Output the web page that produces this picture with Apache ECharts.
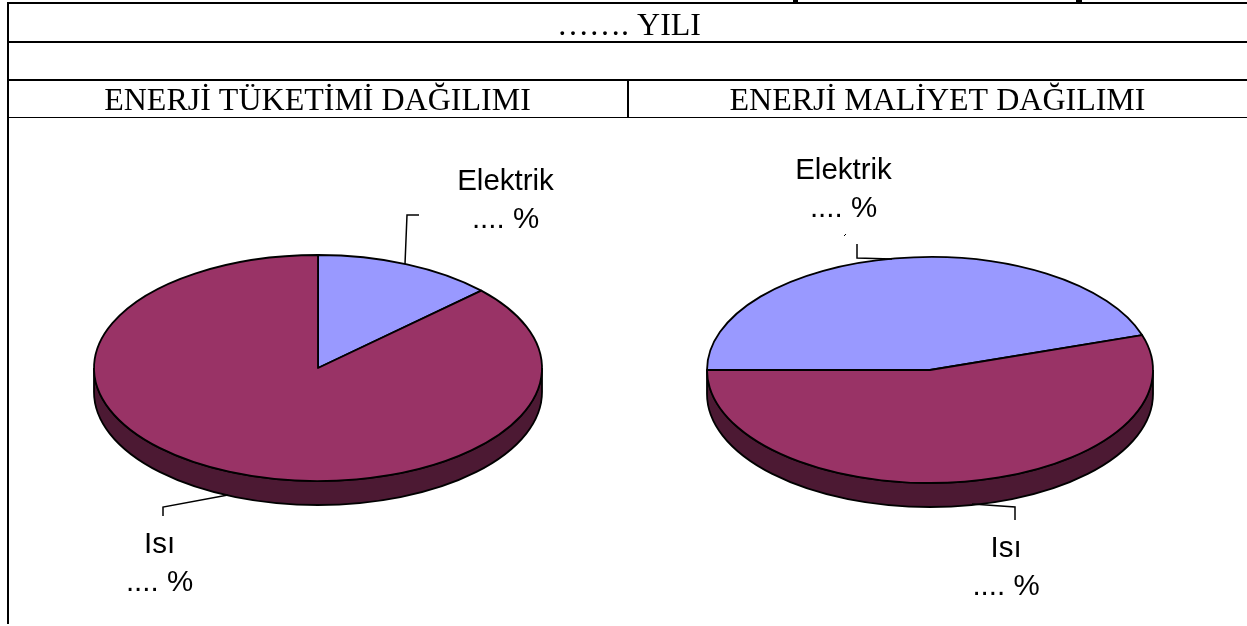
<!DOCTYPE html>
<html><head><meta charset="utf-8">
<style>html,body{margin:0;padding:0;background:#fff}#c{width:1247px;height:626px}</style>
<script src="https://cdn.jsdelivr.net/npm/echarts@6/dist/echarts.min.js"></script>
</head><body><div id="c"></div>
<script>
const categories = ['Elektrik', 'Isı'];
const percentLabels = ['.... %', '.... %'];
const consumptionValues = [13, 87];
const costValues = [45, 55];
const yearLabel = '……. YILI';
const headerLeft = 'ENERJİ TÜKETİMİ DAĞILIMI';
const headerRight = 'ENERJİ MALİYET DAĞILIMI';
const topColors = ['#9999FF', '#993366'];
const sideColors = ['#4D4D80', '#4C1933'];

const leftLayout = {cx:318, cy:368, rx:224, ry:113, depth:24, startDeg:0,
  labels:[[505.5,197],[159.5,560]],
  leaders:[[[405,264],[407,215],[419,215]], [[228,495],[163,507],[163,516]]]};
const rightLayout = {cx:930, cy:370, rx:223, ry:113, depth:24, startDeg:270,
  labels:[[843.5,186],[1006,563.5]],
  leaders:[[[892,259],[857,258],[857,244]], [[972,504],[1015,507],[1015,520]]]};

function pt(l, deg, dy){
  const a = deg*Math.PI/180;
  return [l.cx + l.rx*Math.sin(a), l.cy - l.ry*Math.cos(a) + (dy||0)];
}
function arcPath(l, a0, a1, dy){
  const e = pt(l, a1, dy);
  const large = Math.abs(a1-a0) > 180 ? 1 : 0;
  const sweep = a1 > a0 ? 1 : 0;
  return `A${l.rx} ${l.ry} 0 ${large} ${sweep} ${e[0]} ${e[1]}`;
}
function sectorPath(l, a0, a1){
  const s = pt(l, a0);
  const mid = (a0+a1)/2;
  return `M${l.cx} ${l.cy}L${s[0]} ${s[1]}` + arcPath(l,a0,mid) + arcPath(l,mid,a1) + 'Z';
}
function wallPaths(l, a0, a1){
  const out = [];
  for (let k=-1;k<=1;k++){
    const lo = Math.max(a0, 90+360*k), hi = Math.min(a1, 270+360*k);
    if (hi > lo){
      const s = pt(l,lo), e = pt(l,hi,l.depth);
      out.push(`M${s[0]} ${s[1]}`+arcPath(l,lo,hi)+`L${e[0]} ${e[1]}`+arcPath(l,hi,lo,l.depth)+'Z');
    }
  }
  return out;
}
function pieSeries(values, l){
  const total = values.reduce((a,b)=>a+b,0);
  return {
    type:'custom', coordinateSystem:'none', silent:true, clip:false,
    data: values.map((v,i)=>[v,i]),
    renderItem(params, api){
      const idx = api.value(1);
      let start = l.startDeg;
      for (let i=0;i<idx;i++) start += values[i]/total*360;
      const end = start + api.value(0)/total*360;
      const children = [];
      wallPaths(l,start,end).forEach(d=>children.push({
        type:'path', z2:1, shape:{pathData:d},
        style:{fill:sideColors[idx], stroke:'#000', lineWidth:1.8}}));
      children.push({type:'path', z2:2, shape:{pathData:sectorPath(l,start,end)},
        style:{fill:topColors[idx], stroke:'#000', lineWidth:1.8, lineJoin:'round'}});
      children.push({type:'polyline', z2:3, shape:{points:l.leaders[idx]},
        style:{fill:null, stroke:'#000', lineWidth:1.5}});
      children.push({type:'text', z2:4, x:l.labels[idx][0], y:l.labels[idx][1], style:{
        text:categories[idx], fill:'#000', font:'29.5px "Liberation Sans"', textAlign:'center', textVerticalAlign:'bottom'}});
      children.push({type:'text', z2:4, x:l.labels[idx][0], y:l.labels[idx][1]+38, style:{
        text:percentLabels[idx], fill:'#000', font:'29.5px "Liberation Sans"', textAlign:'center', textVerticalAlign:'bottom'}});
      return {type:'group', children};
    }
  };
}
function rule(x1,y1,x2,y2,w){return {type:'line',silent:true,shape:{x1,y1,x2,y2},style:{stroke:'#000',lineWidth:w}};}
function cellText(text,x,y){return {type:'text',silent:true,x,y,style:{text,fill:'#000',font:'32px "Liberation Serif"',textAlign:'center',textVerticalAlign:'middle'}};}

const chart = echarts.init(document.getElementById('c'), null, {renderer:'canvas'});
chart.setOption({
  animation:false,
  backgroundColor:'#fff',
  graphic:{elements:[
    rule(7,3,1247,3,2),
    rule(8,2,8,624,2),
    rule(7,42,1247,42,2),
    rule(7,80,1247,80,2),
    rule(7,117.5,1247,117.5,1),
    rule(628,80,628,118,2),
    rule(793,1,798,1,2),
    rule(1076,1,1082,1,2),
    rule(844,236,846,234,1),
    cellText(yearLabel,629,26.5),
    cellText(headerLeft,317.5,101.5),
    cellText(headerRight,937.5,101.5)
  ]},
  series:[pieSeries(consumptionValues,leftLayout), pieSeries(costValues,rightLayout)]
});
</script></body></html>
